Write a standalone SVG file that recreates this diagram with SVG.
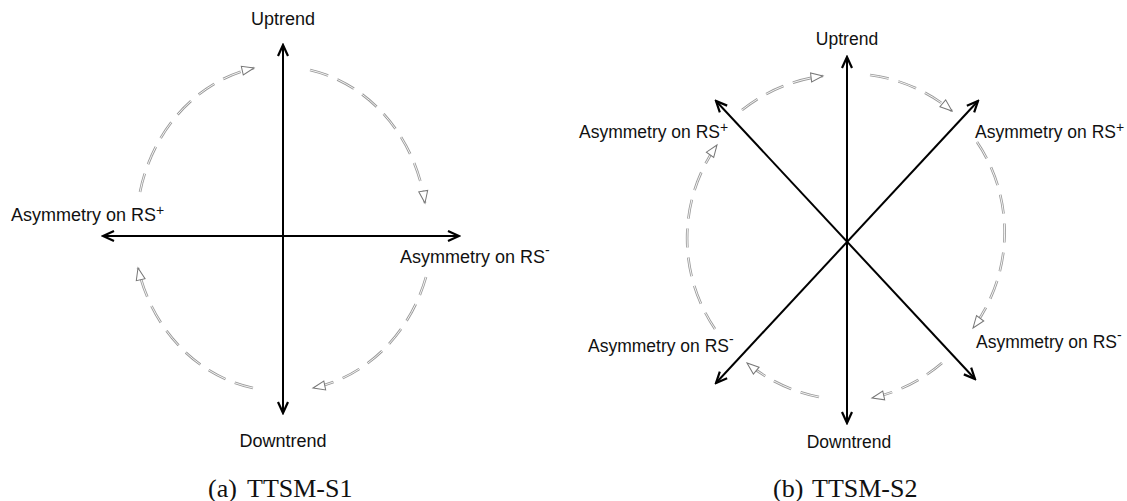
<svg xmlns="http://www.w3.org/2000/svg" xmlns:xlink="http://www.w3.org/1999/xlink" width="1127" height="501" viewBox="0 0 1127 501">
<style>
  .lbl { font-family: "Liberation Sans", Arial, sans-serif; fill: #111; }
  .l18 { font-size: 18px; }
  .l17 { font-size: 17.5px; }
  .sup { font-size: 14px; }
  .cap { font-family: "Liberation Serif", "Times New Roman", serif; font-size: 26px; fill: #111; }
  .axis { stroke: #000; stroke-width: 2; fill: none; marker-start: url(#blk); marker-end: url(#blk); }
  .arcO { stroke: #9a9a9a; stroke-width: 2.6; fill: none; stroke-dasharray: 19 10; }
  .arcI { stroke: #fff; stroke-width: 0.9; fill: none; stroke-dasharray: 19 10; }
  .arcM { stroke: none; fill: none; marker-end: url(#open); }
</style>
<defs>
  <marker id="blk" markerUnits="userSpaceOnUse" markerWidth="16" markerHeight="16" viewBox="-14 -8 16 16" refX="0" refY="0" orient="auto-start-reverse">
    <path d="M-11,-5 L0,0 L-11,5" fill="none" stroke="#000" stroke-width="2.2"/>
  </marker>
  <marker id="open" markerUnits="userSpaceOnUse" markerWidth="18" markerHeight="18" viewBox="-15 -9 18 18" refX="0" refY="0" orient="auto">
    <path d="M0,0 L-12,-4.5 L-12,4.5 Z" fill="#fff" stroke="#777" stroke-width="1"/>
  </marker>
  <path id="a1" d="M140,192 A147,163 0 0 1 254,68"/>
  <path id="a2" d="M310,70 A147,163 0 0 1 425,203"/>
  <path id="a3" d="M426,277 A147,163 0 0 1 313,388"/>
  <path id="a4" d="M253,388 A147,163 0 0 1 138,268"/>
  <path id="b1" d="M742,110 A161,161 0 0 1 823,76"/>
  <path id="b2" d="M870,75 A161,161 0 0 1 952,111"/>
  <path id="b3" d="M977,142 A161,161 0 0 1 973,328"/>
  <path id="b4" d="M942,363 A161,161 0 0 1 872,398"/>
  <path id="b5" d="M819,397 A161,161 0 0 1 747,363"/>
  <path id="b6" d="M715,329 A161,161 0 0 1 717,145"/>
</defs>
<rect width="1127" height="501" fill="#fff"/>

<g id="connectors">
  <!-- left diagram axes -->
  <line class="axis" x1="283" y1="413" x2="283" y2="45"/>
  <line class="axis" x1="103" y1="236" x2="459" y2="236"/>
  <!-- right diagram axes -->
  <line class="axis" x1="847" y1="423" x2="847" y2="57"/>
  <line class="axis" x1="716" y1="101" x2="975" y2="379"/>
  <line class="axis" x1="978" y1="101" x2="716" y2="383"/>
  <!-- dashed cycle arcs -->
  <g class="arcO">
    <use xlink:href="#a1"/><use xlink:href="#a2"/><use xlink:href="#a3"/><use xlink:href="#a4"/>
    <use xlink:href="#b1"/><use xlink:href="#b2"/><use xlink:href="#b3"/><use xlink:href="#b4"/><use xlink:href="#b5"/><use xlink:href="#b6"/>
  </g>
  <g class="arcI">
    <use xlink:href="#a1"/><use xlink:href="#a2"/><use xlink:href="#a3"/><use xlink:href="#a4"/>
    <use xlink:href="#b1"/><use xlink:href="#b2"/><use xlink:href="#b3"/><use xlink:href="#b4"/><use xlink:href="#b5"/><use xlink:href="#b6"/>
  </g>
  <g class="arcM">
    <use xlink:href="#a1"/><use xlink:href="#a2"/><use xlink:href="#a3"/><use xlink:href="#a4"/>
    <use xlink:href="#b1"/><use xlink:href="#b2"/><use xlink:href="#b3"/><use xlink:href="#b4"/><use xlink:href="#b5"/><use xlink:href="#b6"/>
  </g>
</g>

<!-- left diagram nodes -->
<g id="s1-uptrend"><text class="lbl l18" x="283" y="25" text-anchor="middle">Uptrend</text></g>
<g id="s1-downtrend"><text class="lbl l18" x="283" y="447" text-anchor="middle">Downtrend</text></g>
<g id="s1-rs-plus"><text class="lbl l18" x="11" y="221">Asymmetry on RS<tspan class="sup" dy="-6">+</tspan></text></g>
<g id="s1-rs-minus"><text class="lbl l18" x="400" y="263">Asymmetry on RS<tspan class="sup" dy="-8">-</tspan></text></g>
<g id="caption-a"><text class="cap" y="497"><tspan x="208">(a)</tspan><tspan x="247">TTSM-S1</tspan></text></g>

<!-- right diagram nodes -->
<g id="s2-uptrend"><text class="lbl l17" x="847" y="45" text-anchor="middle">Uptrend</text></g>
<g id="s2-downtrend"><text class="lbl l17" x="849" y="448" text-anchor="middle">Downtrend</text></g>
<g id="s2-rs-plus-left"><text class="lbl l17" x="579" y="138">Asymmetry on RS<tspan class="sup" dy="-6">+</tspan></text></g>
<g id="s2-rs-plus-right"><text class="lbl l17" x="975" y="138">Asymmetry on RS<tspan class="sup" dy="-6">+</tspan></text></g>
<g id="s2-rs-minus-left"><text class="lbl l17" x="588" y="352">Asymmetry on RS<tspan class="sup" dy="-8">-</tspan></text></g>
<g id="s2-rs-minus-right"><text class="lbl l17" x="976" y="348">Asymmetry on RS<tspan class="sup" dy="-8">-</tspan></text></g>
<g id="caption-b"><text class="cap" y="497"><tspan x="773">(b)</tspan><tspan x="812">TTSM-S2</tspan></text></g>
</svg>
